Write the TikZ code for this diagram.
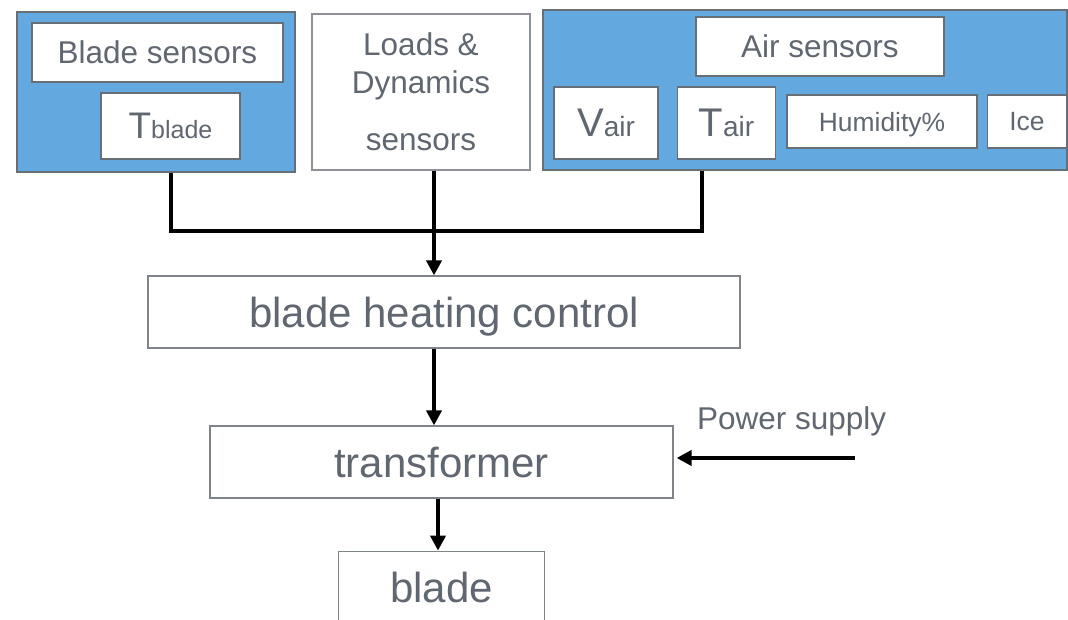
\documentclass[tikz,border=0pt]{standalone}
\usepackage{fontspec}
\setmainfont{Liberation Sans}
\usetikzlibrary{arrows.meta, positioning}
\definecolor{skyblue}{RGB}{99,168,222}
\definecolor{framegray}{RGB}{104,110,118}
\definecolor{labelgray}{RGB}{96,103,112}

\begin{document}
\begin{tikzpicture}[
        x=1pt, y=-1pt,
        group/.style={rectangle, draw=framegray, fill=skyblue, line width=1.5pt, inner sep=0pt},
        sensor/.style={rectangle, draw=framegray, fill=white, line width=1.5pt, inner sep=0pt, text depth=0pt, text=labelgray, align=center},
        block/.style={rectangle, draw=framegray!85, fill=white, line width=1.2pt, inner sep=0pt, minimum height=72pt, text depth=0pt, text=labelgray, font=\fontsize{42}{50}\selectfont},
        arrow/.style={-{Triangle[length=15pt, width=15pt]}, line width=4pt, black},
        bus/.style={line width=4pt, black}
    ]
    \useasboundingbox (0,0) rectangle (1068,620);
    \clip (0,0) rectangle (1068,620);

    % Sensor groups (blue frames)
    \node[group, minimum width=278pt, minimum height=160pt] (bladegrp) at (156,92) {};
    \node[group, minimum width=524pt, minimum height=160pt] (airgrp) at (805,90) {};

    % Blade sensors
    \node[sensor, minimum width=251pt, minimum height=59pt, font=\fontsize{31.5}{38}\selectfont] (bsens) at (157.5,52.5) {Blade sensors};
    \node[sensor, minimum width=139pt, minimum height=66pt] (tblade) at (170.5,126) {{\fontsize{37}{37}\selectfont T}{\fontsize{25}{25}\selectfont blade}};

    % Loads and dynamics
    \node[sensor, draw=framegray!75, line width=1.2pt, minimum width=218pt, minimum height=156pt, font=\fontsize{31.5}{38}\selectfont] (loads) at (421,92) {Loads \&\\Dynamics\\[19pt]sensors};

    % Air sensors
    \node[sensor, minimum width=248pt, minimum height=59pt, font=\fontsize{31.5}{38}\selectfont] (asens) at (820,46.5) {Air sensors};
    \node[sensor, minimum width=104pt, minimum height=72pt] (vair) at (606,123) {{\fontsize{40}{40}\selectfont V}{\fontsize{28}{28}\selectfont air}};
    \node[sensor, minimum width=98pt, minimum height=72pt, right=18pt of vair] (tair) {{\fontsize{40}{40}\selectfont T}{\fontsize{28}{28}\selectfont air}};
    \node[sensor, minimum width=190pt, minimum height=53pt, font=\fontsize{26.4}{30}\selectfont] (humid) at (882,121.5) {Humidity\%};
    \node[sensor, minimum width=79pt, minimum height=53pt, font=\fontsize{26.4}{30}\selectfont, right=9pt of humid] (ice) {Ice};

    % Control chain
    \node[block, minimum width=592pt] (ctrl) at (444,312) {blade heating control};
    \node[block, minimum width=463pt] (trafo) at (441.5,462) {transformer};
    \node[block, minimum width=206pt, below=52pt of trafo] (blade) {blade};

    % Power supply input
    \node[font=\fontsize{31.5}{38}\selectfont, text=labelgray, anchor=base west, inner sep=0pt] (psup) at (697,429) {Power supply};
    \coordinate (pin) at (855,458);

    % Bus and arrows
    \coordinate (tap) at (702,231);
    \coordinate (spine) at (434,231);
    \coordinate (spinelow) at (438,0);
    \draw[bus] (bladegrp.south -| tblade) |- (tap) -- (tap |- airgrp.south);
    \draw[arrow] (loads.south -| spine) -- (ctrl.north -| spine);
    \draw[arrow] (ctrl.south -| spine) -- (trafo.north -| spine);
    \draw[arrow] (trafo.south -| spinelow) -- (blade.north -| spinelow);
    \draw[arrow, shorten >=3pt] (pin) -- (pin -| trafo.east);

\end{tikzpicture}
\end{document}
